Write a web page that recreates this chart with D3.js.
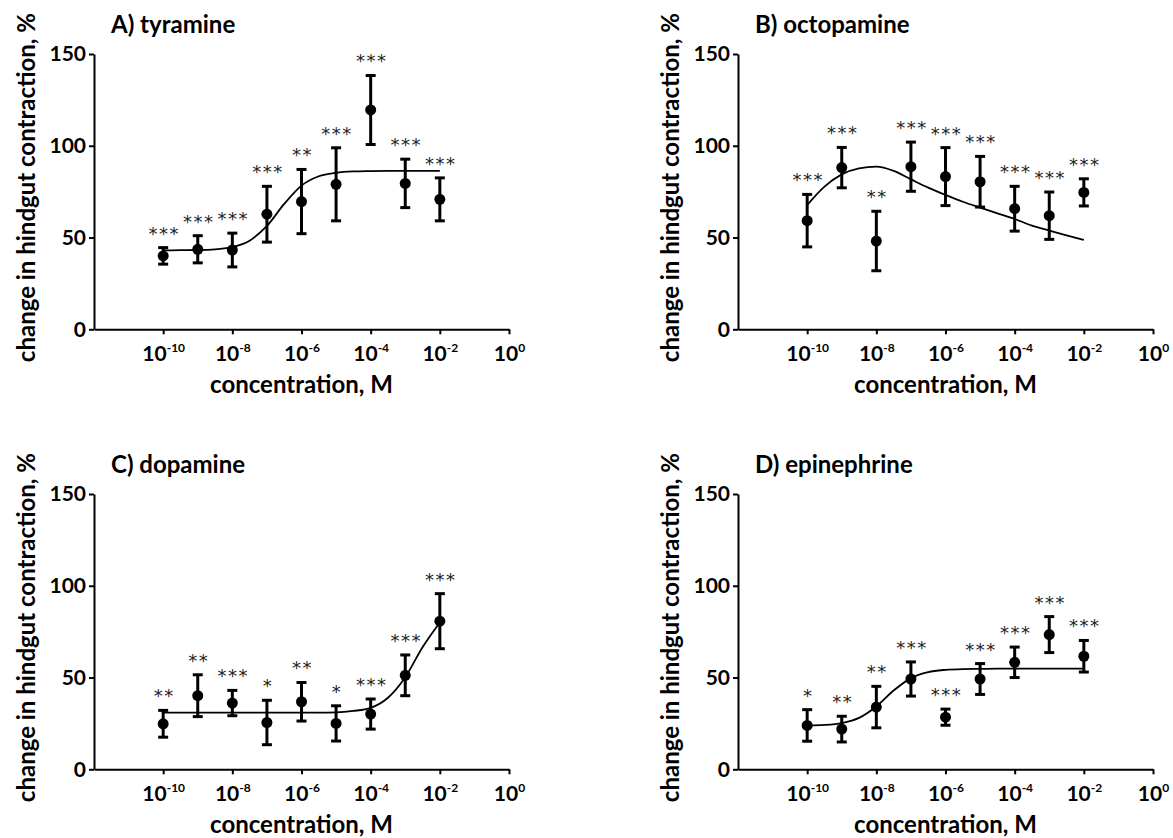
<!DOCTYPE html>
<html>
<head>
<meta charset="utf-8">
<script src="https://cdn.jsdelivr.net/npm/d3@7/dist/d3.min.js"></script>
<style>
  body { margin: 0; background: #fff; }
  svg text { font-family: Lato, 'Open Sans', sans-serif; }
</style>
</head>
<body>
<script>
// concentrations tested (log10 M)
const logConc = [-10, -9, -8, -7, -6, -5, -4, -3, -2];
const fitLogConc = [-10, -9.5, -9, -8.5, -8, -7.5, -7, -6.5, -6, -5.5, -5, -4.5, -4, -3.5, -3, -2.5, -2];

const xTicks = [-10, -8, -6, -4, -2, 0];
const yTicks = [0, 50, 100, 150];

const panelTitles = ['A) tyramine', 'B) octopamine', 'C) dopamine', 'D) epinephrine'];

// A) tyramine
const tyramineMean = [40, 43.6, 43.2, 62.7, 69.6, 79, 119.5, 79.5, 70.8];
const tyramineErr = [4.5, 7.4, 9.2, 15.2, 17.5, 19.9, 18.8, 13.2, 11.7];
const tyramineStars = ['***', '***', '***', '***', '**', '***', '***', '***', '***'];
const tyramineFit = [43.0, 43.1, 43.2, 43.6, 44.8, 48.3, 56.3, 68.3, 78.3, 83.4, 85.3, 86.0, 86.2, 86.3, 86.3, 86.3, 86.3];

// B) octopamine
const octopamineMean = [59.2, 88.1, 48.1, 88.6, 83.2, 80.4, 65.7, 61.9, 74.6];
const octopamineErr = [14.3, 11, 16.2, 13.4, 15.8, 13.8, 12.2, 12.9, 7.4];
const octopamineStars = ['***', '***', '**', '***', '***', '***', '***', '***', '***'];
const octopamineFit = [67.7, 77.7, 84.4, 87.7, 88.6, 86.3, 81.7, 77.2, 73.2, 69.5, 66.3, 63.2, 60.1, 56.5, 53.8, 51.2, 48.7];

// C) dopamine
const dopamineMean = [24.8, 40.1, 36.1, 25.5, 36.8, 25, 30.1, 51.2, 80.7];
const dopamineErr = [7.3, 11.4, 6.9, 12.1, 10.5, 9.6, 8.2, 11.1, 15];
const dopamineStars = ['**', '**', '***', '*', '**', '*', '***', '***', '***'];
const dopamineFit = [30.9, 30.9, 30.9, 30.9, 30.9, 30.9, 30.9, 30.9, 30.9, 30.9, 31.0, 31.8, 33.5, 39.0, 50.2, 66.5, 80.0];

// D) epinephrine
const epinephrineMean = [23.9, 21.9, 33.9, 49.2, 28.4, 49.2, 58.3, 73.4, 61.6];
const epinephrineErr = [8.6, 7, 11.3, 9.3, 4.4, 8.4, 8.3, 9.8, 8.6];
const epinephrineStars = ['*', '**', '**', '***', '***', '***', '***', '***', '***'];
const epinephrineFit = [23.9, 24.2, 25.2, 28.0, 34.2, 42.9, 49.7, 53.0, 54.2, 54.6, 54.7, 54.8, 54.8, 54.8, 54.8, 54.8, 54.8];

const panels = [
    { title: panelTitles[0], mean: tyramineMean, err: tyramineErr, stars: tyramineStars, fit: tyramineFit },
    { title: panelTitles[1], mean: octopamineMean, err: octopamineErr, stars: octopamineStars, fit: octopamineFit },
    { title: panelTitles[2], mean: dopamineMean, err: dopamineErr, stars: dopamineStars, fit: dopamineFit },
    { title: panelTitles[3], mean: epinephrineMean, err: epinephrineErr, stars: epinephrineStars, fit: epinephrineFit }
];

const width = 1173, height = 838;
const plotW = 415, plotH = 275.3;
const colLeft = [94, 738];
const rowTop = [54, 494];

const svg = d3.select('body')
    .append('svg')
    .attr('width', width)
    .attr('height', height);

const x = d3.scaleLinear().domain([-12, 0]).range([0, plotW]);
const y = d3.scaleLinear().domain([0, 150]).range([plotH, 0]);

panels.forEach((p, i) => {
    const g = svg.append('g')
        .attr('transform', `translate(${colLeft[i % 2]},${rowTop[Math.floor(i / 2)]})`);
    drawPanel(g, p);
});

function drawPanel(g, p) {
    // axes
    const xAxis = g.append('g')
        .attr('transform', `translate(0,${plotH})`)
        .call(d3.axisBottom(x).tickValues(xTicks).tickSize(5).tickSizeOuter(0).tickPadding(8));

    // 10^n labels with superscript
    xAxis.selectAll('.tick text')
        .text(null)
        .attr('font-size', 21)
        .attr('font-weight', 'bold')
        .attr('dy', 19)
        .each(function (d) {
            const t = d3.select(this);
            t.append('tspan').text('10');
            t.append('tspan').text(d).attr('font-size', 12).attr('dy', -9);
        });

    const yAxis = g.append('g')
        .call(d3.axisLeft(y).tickValues(yTicks).tickSize(5).tickSizeOuter(0).tickPadding(3));

    yAxis.selectAll('.tick text')
        .attr('font-size', 21)
        .attr('font-weight', 'bold');

    g.selectAll('.domain, .tick line')
        .attr('stroke', '#000')
        .attr('stroke-width', 2);
    g.selectAll('.tick text').attr('fill', '#000');

    // axis titles
    g.append('text')
        .attr('x', plotW / 2)
        .attr('y', plotH + 64)
        .attr('text-anchor', 'middle')
        .attr('font-size', 24)
        .attr('font-weight', 'bold')
        .text('concentration, M');

    g.append('text')
        .attr('transform', `translate(${-59},${plotH / 2 - 4}) rotate(-90)`)
        .attr('text-anchor', 'middle')
        .attr('font-size', 24)
        .attr('font-weight', 'bold')
        .text('change in hindgut contraction, %');

    g.append('text')
        .attr('x', 17)
        .attr('y', -21)
        .attr('font-size', 24)
        .attr('font-weight', 'bold')
        .text(p.title);

    // fitted curve
    const line = d3.line()
        .x((d, i) => x(fitLogConc[i]))
        .y(d => y(d))
        .curve(d3.curveMonotoneX);

    g.append('path')
        .datum(p.fit)
        .attr('fill', 'none')
        .attr('stroke', '#000')
        .attr('stroke-width', 1.8)
        .attr('d', line);

    const pts = logConc.map((c, i) => ({ c, m: p.mean[i], e: p.err[i], s: p.stars[i] }));

    // error bars
    const eb = g.selectAll('.eb').data(pts).enter().append('g').attr('class', 'eb');
    eb.append('line')
        .attr('x1', d => x(d.c)).attr('x2', d => x(d.c))
        .attr('y1', d => y(d.m - d.e)).attr('y2', d => y(d.m + d.e))
        .attr('stroke', '#000').attr('stroke-width', 3);
    eb.append('line')
        .attr('x1', d => x(d.c) - 5).attr('x2', d => x(d.c) + 5)
        .attr('y1', d => y(d.m + d.e)).attr('y2', d => y(d.m + d.e))
        .attr('stroke', '#000').attr('stroke-width', 3);
    eb.append('line')
        .attr('x1', d => x(d.c) - 5).attr('x2', d => x(d.c) + 5)
        .attr('y1', d => y(d.m - d.e)).attr('y2', d => y(d.m - d.e))
        .attr('stroke', '#000').attr('stroke-width', 3);

    g.selectAll('.pt').data(pts).enter().append('circle')
        .attr('class', 'pt')
        .attr('cx', d => x(d.c))
        .attr('cy', d => y(d.m))
        .attr('r', 5.5)
        .attr('fill', '#000');

    // significance stars
    g.selectAll('.star').data(pts).enter().append('text')
        .attr('class', 'star')
        .attr('x', d => x(d.c) + 1)
        .attr('y', d => y(d.m + d.e) - 8)
        .attr('text-anchor', 'middle')
        .attr('font-size', 18)
        .attr('letter-spacing', 1.5)
        .attr('fill', '#222')
        .style('font-family', "'DejaVu Sans', sans-serif")
        .text(d => d.s);
}
</script>
</body>
</html>
